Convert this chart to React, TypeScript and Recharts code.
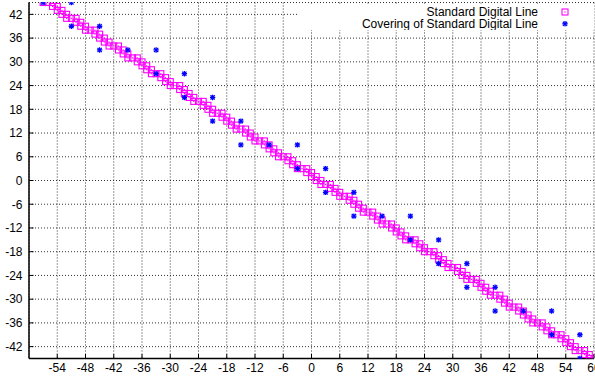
import { ScatterChart, Scatter, XAxis, YAxis, CartesianGrid, Legend } from "recharts";

const xTicks = [-54, -48, -42, -36, -30, -24, -18, -12, -6, 0, 6, 12, 18, 24, 30, 36, 42, 48, 54, 60];
const yTicks = [-42, -36, -30, -24, -18, -12, -6, 0, 6, 12, 18, 24, 30, 36, 42];

// standard digital line: each column x holds one or two y cells
const lineX = [
  -57, -56, -55, -54, -53, -52, -51, -50, -49, -48, -47, -46, -45, -44, -43, -42, -41, -40, -39, -38,
  -37, -36, -35, -34, -33, -32, -31, -30, -29, -28, -27, -26, -25, -24, -23, -22, -21, -20, -19, -18,
  -17, -16, -15, -14, -13, -12, -11, -10, -9, -8, -7, -6, -5, -4, -3, -2, -1, 0, 1, 2,
  3, 4, 5, 6, 7, 8, 9, 10, 11, 12, 13, 14, 15, 16, 17, 18, 19, 20, 21, 22,
  23, 24, 25, 26, 27, 28, 29, 30, 31, 32, 33, 34, 35, 36, 37, 38, 39, 40, 41, 42,
  43, 44, 45, 46, 47, 48, 49, 50, 51, 52, 53, 54, 55, 56, 57, 58, 59, 60,
];
const lineYs = [
  [45], [45], [44, 45], [43, 44], [42, 43], [41, 42], [41], [40, 41], [39, 40], [38, 39],
  [38], [37, 38], [36, 37], [35, 36], [34, 35], [34], [33, 34], [32, 33], [31, 32], [31],
  [30, 31], [29, 30], [28, 29], [27, 28], [27], [26, 27], [25, 26], [24, 25], [24], [23, 24],
  [22, 23], [21, 22], [20, 21], [20], [19, 20], [18, 19], [17, 18], [17], [16, 17], [15, 16],
  [14, 15], [13, 14], [13], [12, 13], [11, 12], [10, 11], [10], [9, 10], [8, 9], [7, 8],
  [6, 7], [6], [5, 6], [4, 5], [3, 4], [3], [2, 3], [1, 2], [0, 1], [-1, 0],
  [-1], [-2, -1], [-3, -2], [-4, -3], [-4], [-5, -4], [-6, -5], [-7, -6], [-8, -7], [-8],
  [-9, -8], [-10, -9], [-11, -10], [-11], [-12, -11], [-13, -12], [-14, -13], [-15, -14], [-15], [-16, -15],
  [-17, -16], [-18, -17], [-18], [-19, -18], [-20, -19], [-21, -20], [-22, -21], [-22], [-23, -22], [-24, -23],
  [-25, -24], [-25], [-26, -25], [-27, -26], [-28, -27], [-29, -28], [-29], [-30, -29], [-31, -30], [-32, -31],
  [-32], [-33, -32], [-34, -33], [-35, -34], [-36, -35], [-36], [-37, -36], [-38, -37], [-39, -38], [-39],
  [-40, -39], [-41, -40], [-42, -41], [-43, -42], [-43], [-44, -43], [-45, -44], [-45],
];

// covering cells (centres)
const coverX = [-57, -51, -51, -45, -45, -39, -33, -33, -27, -27, -21, -21, -15, -15, -9, -3, -3, 3, 3, 9, 9, 15, 21, 21, 27, 27, 33, 33, 39, 39, 45, 51, 51, 57, 57];
const coverY = [45, 45, 39, 39, 33, 33, 33, 27, 27, 21, 21, 15, 15, 9, 9, 9, 3, 3, -3, -3, -9, -9, -9, -15, -15, -21, -21, -27, -27, -33, -33, -33, -39, -39, -45];

const FONT = "'Liberation Sans', Arial, Helvetica, sans-serif";
const PINK = "#ff00ff";
const BLUE = "#0000ff";

const lineData = lineX.flatMap((x, i) => lineYs[i].map((y) => ({ x, y })));
const coverData = coverX.map((x, i) => ({ x, y: coverY[i] }));

function Square({ cx, cy }: any) {
  return (
    <g>
      <rect x={cx - 3} y={cy - 3} width={6} height={6} fill="none" stroke={PINK} strokeWidth={1.1} />
      <rect x={cx - 0.6} y={cy - 0.6} width={1.2} height={1.2} fill={PINK} />
    </g>
  );
}

function Star({ cx, cy }: any) {
  const r = 2.7;
  const d = 2.1;
  return (
    <g stroke={BLUE} strokeWidth={1.3}>
      <line x1={cx - r} y1={cy} x2={cx + r} y2={cy} />
      <line x1={cx} y1={cy - r} x2={cx} y2={cy + r} />
      <line x1={cx - d} y1={cy - d} x2={cx + d} y2={cy + d} />
      <line x1={cx - d} y1={cy + d} x2={cx + d} y2={cy - d} />
    </g>
  );
}

function BottomTick({ x, y, payload }: any) {
  return (
    <g>
      <line x1={x} y1={y} x2={x} y2={y - 4.5} stroke="#000" />
      <text x={x} y={y + 13.5} textAnchor="middle" fontSize={12} fontFamily={FONT} fill="#000">
        {payload.value}
      </text>
    </g>
  );
}

function TopTick({ x, y }: any) {
  return <line x1={x} y1={y} x2={x} y2={y + 4.5} stroke="#000" />;
}

function LeftTick({ x, y, payload }: any) {
  return (
    <g>
      <line x1={x} y1={y} x2={x + 4.5} y2={y} stroke="#000" />
      <text x={x - 6.5} y={y + 4.3} textAnchor="end" fontSize={12} fontFamily={FONT} fill="#000">
        {payload.value}
      </text>
    </g>
  );
}

function RightTick({ x, y }: any) {
  return <line x1={x} y1={y} x2={x - 4.5} y2={y} stroke="#000" />;
}

// key box sits at left 297, top 5 of the chart
function KeyBox() {
  return (
    <svg width={297} height={25} style={{ display: "block" }}>
      <text x={241} y={11.2} textAnchor="end" fontSize={12} fontFamily={FONT} fill="#000">
        Standard Digital Line
      </text>
      <text x={241} y={23.1} textAnchor="end" fontSize={12} fontFamily={FONT} fill="#000">
        Covering of Standard Digital Line
      </text>
      <Square cx={268} cy={7} />
      <Star cx={268} cy={18.8} />
    </svg>
  );
}

const axisLine = { stroke: "#000", strokeWidth: 1.5 };

export default function App() {
  return (
    <div style={{ position: "absolute", left: 0, top: 0, width: 595, height: 377, background: "#fff" }}>
      <ScatterChart width={595} height={377} margin={{ top: 2.5, right: 1, bottom: 0, left: 0 }}>
        <CartesianGrid stroke="#333" strokeDasharray="1 2" />
        <XAxis
          dataKey="x"
          type="number"
          domain={[-60, 60]}
          ticks={xTicks}
          interval={0}
          height={18.5}
          tickSize={0}
          tickMargin={0}
          tick={<BottomTick />}
          axisLine={axisLine}
          allowDataOverflow
        />
        <XAxis
          xAxisId="top"
          orientation="top"
          dataKey="x"
          type="number"
          domain={[-60, 60]}
          ticks={xTicks}
          interval={0}
          height={0}
          tickSize={0}
          tickMargin={0}
          tick={<TopTick />}
          axisLine={axisLine}
          allowDataOverflow
        />
        <YAxis
          dataKey="y"
          type="number"
          domain={[-45, 45]}
          ticks={yTicks}
          interval={0}
          width={29}
          tickSize={0}
          tickMargin={0}
          tick={<LeftTick />}
          axisLine={axisLine}
          allowDataOverflow
        />
        <YAxis
          yAxisId="right"
          orientation="right"
          dataKey="y"
          type="number"
          domain={[-45, 45]}
          ticks={yTicks}
          interval={0}
          width={0}
          tickSize={0}
          tickMargin={0}
          tick={<RightTick />}
          axisLine={axisLine}
          allowDataOverflow
        />
        <Legend
          layout="vertical"
          align="center"
          verticalAlign="middle"
          content={() => <KeyBox />}
          wrapperStyle={{ left: 297, top: 5, width: 297, height: 25, background: "#fff" }}
        />
        <Scatter name="Standard Digital Line" data={lineData} shape={<Square />} isAnimationActive={false} />
        <Scatter name="Covering of Standard Digital Line" data={coverData} shape={<Star />} isAnimationActive={false} />
      </ScatterChart>
    </div>
  );
}
